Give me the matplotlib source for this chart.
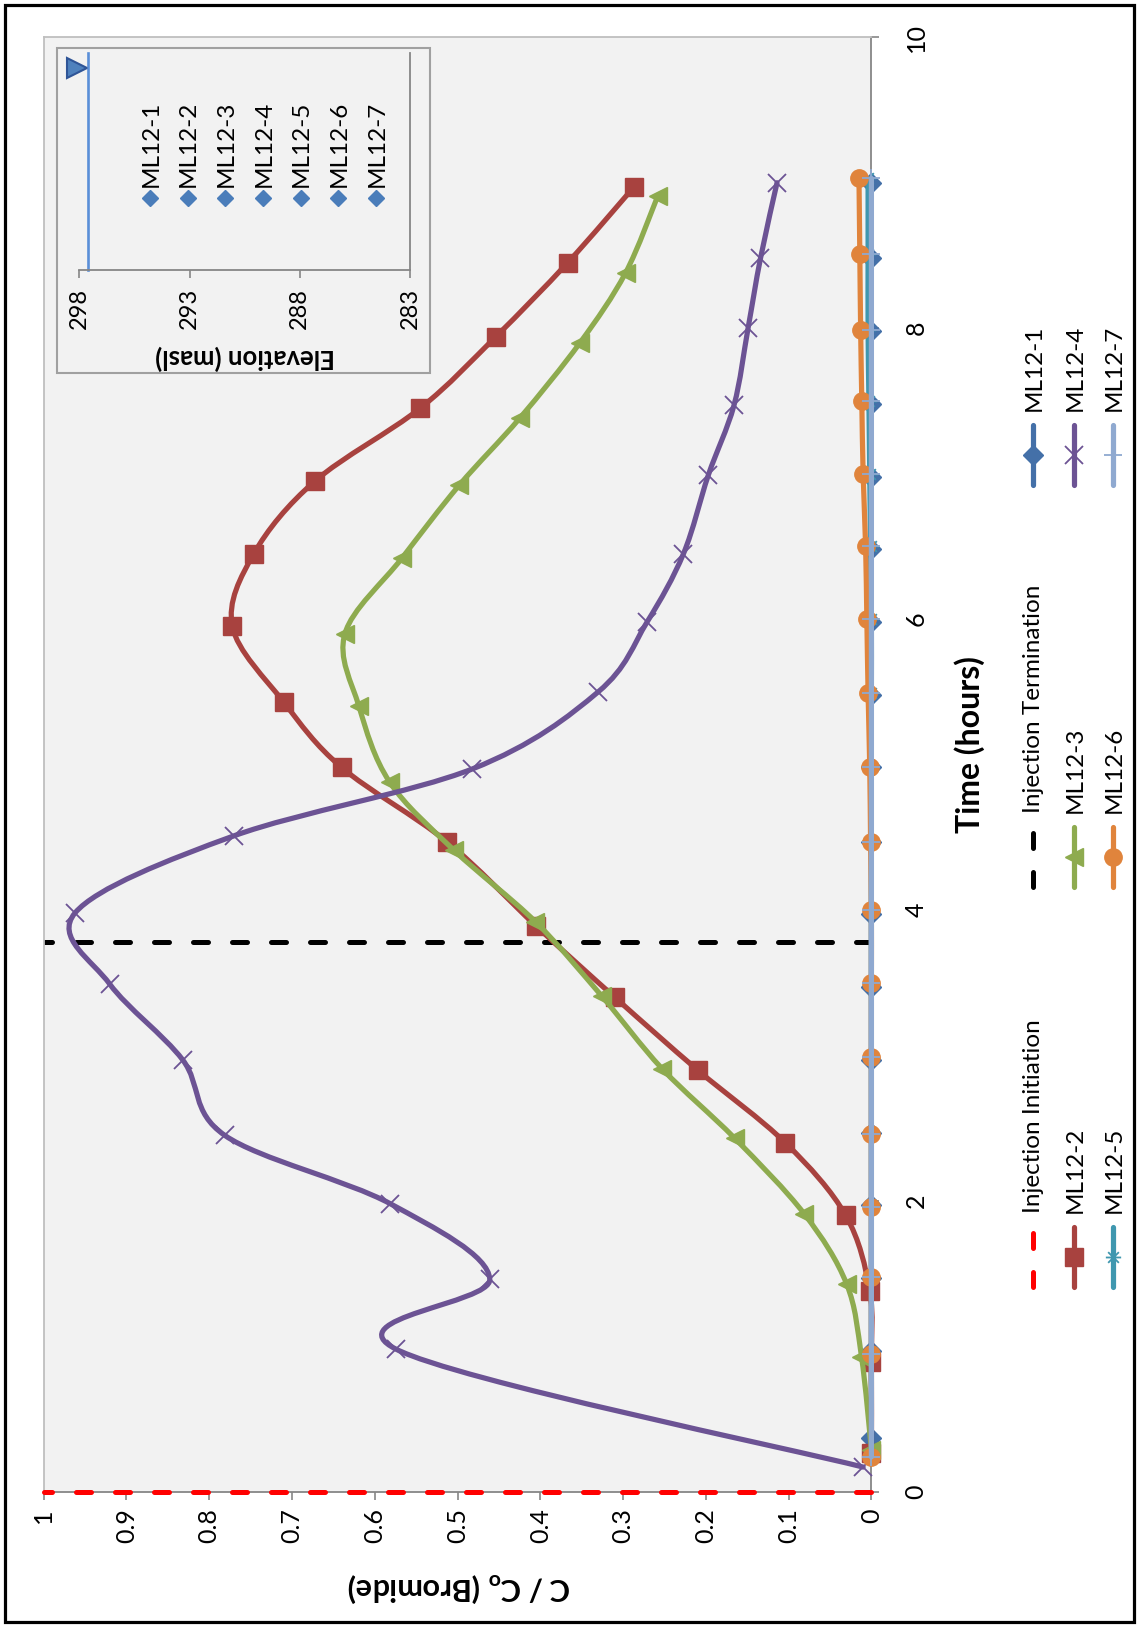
import matplotlib
matplotlib.use("Agg")
import matplotlib.pyplot as plt
from matplotlib.path import Path
from matplotlib.patches import PathPatch, Rectangle
import numpy as np

plt.rcParams['font.family'] = ['Lato', 'DejaVu Sans']
plt.rcParams['mathtext.fontset'] = 'custom'
plt.rcParams['mathtext.rm'] = 'Lato'
plt.rcParams['mathtext.bf'] = 'Lato:bold'

# ---- breakthrough data: time (hours) vs C/Co ----
t_ml1 = [0.37, 0.97, 1.47, 1.97, 2.47, 2.97, 3.47, 3.97, 4.47, 4.98, 5.48, 5.98, 6.48, 6.98, 7.48, 7.98, 8.48, 9.0]
c_ml1 = [0, 0, 0, 0, 0, 0, 0, 0, 0, 0, 0, 0, 0, 0, 0, 0, 0, 0]

t_ml2 = [0.27, 0.89, 1.38, 1.9, 2.4, 2.9, 3.4, 3.89, 4.47, 4.98, 5.43, 5.95, 6.45, 6.95, 7.45, 7.94, 8.45, 8.97]
c_ml2 = [0.0, 0.0, 0.002, 0.031, 0.104, 0.21, 0.31, 0.405, 0.513, 0.64, 0.71, 0.772, 0.746, 0.672, 0.545, 0.454, 0.367, 0.287]

t_ml3 = [0.29, 0.93, 1.43, 1.91, 2.43, 2.91, 3.41, 3.92, 4.41, 4.88, 5.4, 5.9, 6.42, 6.92, 7.38, 7.9, 8.38, 8.91]
c_ml3 = [0.0, 0.012, 0.03, 0.081, 0.165, 0.253, 0.326, 0.406, 0.504, 0.582, 0.619, 0.636, 0.567, 0.498, 0.425, 0.352, 0.297, 0.258]

t_ml4 = [0.17, 0.98, 1.46, 1.98, 2.45, 2.97, 3.49, 3.98, 4.51, 4.97, 5.5, 5.98, 6.45, 6.99, 7.47, 8.0, 8.48, 9.0]
c_ml4 = [0.01, 0.574, 0.461, 0.581, 0.781, 0.832, 0.92, 0.962, 0.77, 0.482, 0.33, 0.271, 0.227, 0.197, 0.166, 0.149, 0.134, 0.114]

t_ml5 = [0.24, 0.95, 1.48, 1.96, 2.46, 2.99, 3.5, 4.0, 4.47, 4.98, 5.49, 6.0, 6.5, 7.0, 7.5, 7.99, 8.51, 9.03]
c_ml5 = [0, 0, 0, 0, 0, 0, 0, 0, 0, 0, 0, 0, 0.001, 0.002, 0.003, 0.004, 0.004, 0.004]

t_ml6 = [0.24, 0.95, 1.48, 1.96, 2.46, 2.99, 3.5, 4.0, 4.47, 4.98, 5.49, 6.0, 6.5, 7.0, 7.5, 7.99, 8.51, 9.03]
c_ml6 = [0, 0, 0, 0, 0, 0, 0, 0, 0.001, 0.002, 0.004, 0.0055, 0.007, 0.01, 0.0116, 0.013, 0.014, 0.015]

t_ml7 = [0.24, 0.95, 1.48, 1.96, 2.46, 2.99, 3.5, 4.0, 4.47, 4.98, 5.49, 6.0, 6.5, 7.0, 7.5, 7.99, 8.51, 9.03]
c_ml7 = [0, 0, 0, 0, 0, 0, 0, 0, 0, 0, 0, 0, 0, 0, 0, 0, 0, 0]

INJ_START = 0.0
INJ_END = 3.78

c_ticks = [0, 0.1, 0.2, 0.3, 0.4, 0.5, 0.6, 0.7, 0.8, 0.9, 1]
t_ticks = [0, 2, 4, 6, 8, 10]

# inset: port elevations
elev_ticks = [298, 293, 288, 283]
WATER_TABLE = 297.6
WT_SYMBOL_ELEV = 298.1
WT_SYMBOL_POS = 0.93
ports = ["ML12-1", "ML12-2", "ML12-3", "ML12-4", "ML12-5", "ML12-6", "ML12-7"]

W, H = 1138, 1627


def fx(px):
    return px / W


def fy(py):
    return 1 - py / H


def smooth(ax, x, y, **kw):
    # Excel-style smoothed line (Catmull-Rom as cubic Bezier)
    pts = np.column_stack([x, y]).astype(float)
    ext = np.vstack([pts[0], pts, pts[-1]])
    verts = [pts[0]]
    codes = [Path.MOVETO]
    for i in range(1, len(ext) - 2):
        p0, p1, p2, p3 = ext[i - 1], ext[i], ext[i + 1], ext[i + 2]
        verts += [p1 + (p2 - p0) / 6, p2 - (p3 - p1) / 6, p2]
        codes += [Path.CURVE4] * 3
    ax.add_patch(PathPatch(Path(verts, codes), fill=False, clip_on=False,
                           capstyle='round', joinstyle='round', **kw))


asterisk = Path([(-1, 0), (1, 0), (-0.7, -0.7), (0.7, 0.7), (-0.7, 0.7), (0.7, -0.7)],
                [Path.MOVETO, Path.LINETO, Path.MOVETO, Path.LINETO, Path.MOVETO, Path.LINETO])

series = [
    ("ML12-1", c_ml1, t_ml1, '#4470A8', dict(marker='D', ms=10)),
    ("ML12-2", c_ml2, t_ml2, '#A8423F', dict(marker='s', ms=13)),
    ("ML12-3", c_ml3, t_ml3, '#8EAB4F', dict(marker='<', ms=13)),
    ("ML12-4", c_ml4, t_ml4, '#6C5394', dict(marker='x', ms=13, mew=1.3)),
    ("ML12-5", c_ml5, t_ml5, '#3F97AF', dict(marker=asterisk, ms=11, mew=1.3)),
    ("ML12-6", c_ml6, t_ml6, '#E0843C', dict(marker='o', ms=12.5)),
    ("ML12-7", c_ml7, t_ml7, '#8FA9D0', dict(marker='+', ms=13, mew=1.3)),
]

LW = 3.75
DASH_LW = 3.6

fig = plt.figure(figsize=(W / 100, H / 100), dpi=100)
fig.patch.set_facecolor('white')

ax = fig.add_axes([fx(43.6), fy(1491.8), (871.4 - 43.6) / W, (1491.8 - 37.3) / H])
ax.set_facecolor('#F2F2F2')
ax.set_xlim(1, 0)
ax.set_ylim(0, 10)

# injection markers
ax.plot([0, 1], [INJ_START, INJ_START], color='#FF0000', lw=DASH_LW, dashes=(3, 4.8),
        dash_capstyle='round', clip_on=False, zorder=2.6)
ax.plot([0, 1], [INJ_END, INJ_END], color='black', lw=DASH_LW, dashes=(3, 4.8),
        dash_capstyle='round', zorder=2.4)

for i, (name, c, t, col, mk) in enumerate(series):
    z = 3 + i
    smooth(ax, c, t, ec=col, lw=LW, zorder=z)
    ax.plot(c, t, ls='none', color=col, mfc=col, mec=col, clip_on=False, zorder=z + 0.5, **mk)

ax.set_xticks(c_ticks)
ax.set_xticklabels([f"{v:g}" for v in c_ticks])
ax.set_yticks(t_ticks)
ax.set_yticklabels([str(v) for v in t_ticks])
ax.yaxis.tick_right()
ax.tick_params(axis='x', direction='out', length=6, width=1.2, color='#868686',
               labelsize=18, pad=6, labelrotation=90)
ax.tick_params(axis='y', direction='out', length=6, width=1.2, color='#868686',
               labelsize=18, pad=18, labelrotation=90)
for lbl in ax.get_yticklabels():
    lbl.set_va('center')
    lbl.set_ha('left')
for lbl in ax.get_xticklabels():
    lbl.set_va('top')
    lbl.set_ha('center')

ax.spines['right'].set_color('#868686')
ax.spines['bottom'].set_color('#868686')
ax.spines['top'].set_color('#BFBFBF')
ax.spines['left'].set_color('#BFBFBF')
for s in ax.spines.values():
    s.set_linewidth(1.3)

fig.text(fx(459), fy(1587), r"C / C$_\mathbf{o}$ (Bromide)", rotation=180, ha='center',
         va='center', fontsize=22, fontweight='bold')
fig.text(fx(970), fy(745), "Time (hours)", rotation=90, ha='center', va='center',
         fontsize=23, fontweight='bold')

# overlay in pixel coordinates for legend, frames
ov = fig.add_axes([0, 0, 1, 1], zorder=5)
ov.set_xlim(0, W)
ov.set_ylim(H, 0)
ov.axis('off')
ov.patch.set_alpha(0)

ov.add_patch(Rectangle((5, 5), 1129, 1617, fill=False, ec='black', lw=2.3, clip_on=False))

# main legend
handles = [
    ("Injection Initiation", '#FF0000', None, True),
    ("Injection Termination", 'black', None, True),
] + [(s[0], s[3], s[4], False) for s in series]
col_x = [1033, 1074, 1113]
row_y = [1257, 857, 455]
for k, (label, col, mk, dashed) in enumerate(handles):
    x = col_x[k // 3]
    yc = row_y[k % 3]
    if dashed:
        ov.plot([x, x], [yc + 30, yc - 30], color=col, lw=DASH_LW, dashes=(3, 4.8),
                dash_capstyle='round', solid_capstyle='round')
    else:
        ov.plot([x, x], [yc + 30, yc - 30], color=col, lw=LW, solid_capstyle='round')
        ov.plot([x], [yc], ls='none', color=col, mfc=col, mec=col, **mk)
    ov.text(x + 1, yc - 44, label, rotation=90, ha='center', va='bottom', fontsize=17.5)

# inset chart (port elevations)
ov.add_patch(Rectangle((57, 48), 373, 325, fc='#F2F2F2', ec='#A0A0A0', lw=1.5, zorder=1))

axi = fig.add_axes([fx(79.3), fy(270), (410 - 79.3) / W, (270 - 53) / H], zorder=6)
axi.patch.set_alpha(0)
axi.set_xlim(298, 283)
axi.set_ylim(0, 1)
axi.plot([WATER_TABLE, WATER_TABLE], [0, 1], color='#5A8FD8', lw=1.9, clip_on=False)
axi.plot([WT_SYMBOL_ELEV], [WT_SYMBOL_POS], marker='>', ms=15, mfc='#4F81BD', mec='#2F5597',
         mew=1.5, clip_on=False)
axi.set_xticks(elev_ticks)
axi.set_xticklabels([str(v) for v in elev_ticks])
axi.set_yticks([])
axi.tick_params(axis='x', direction='out', length=6, width=1.2, color='#868686',
                labelsize=17, pad=7, labelrotation=90)
for lbl in axi.get_xticklabels():
    lbl.set_va('top')
for side in ['top', 'left']:
    axi.spines[side].set_visible(False)
axi.spines['bottom'].set_color('#868686')
axi.spines['right'].set_color('#868686')
axi.spines['bottom'].set_linewidth(1.3)
axi.spines['right'].set_linewidth(1.3)

fig.text(fx(245), fy(358), "Elevation (masl)", rotation=180, ha='center', va='center',
         fontsize=18.5, fontweight='bold', zorder=7)

leg_x = [150, 187.7, 225.3, 263, 300.7, 338.3, 376]
for x, name in zip(leg_x, ports):
    ov.plot([x], [198], ls='none', marker='D', ms=8, mfc='#4A7DBA', mec='#4A7DBA', zorder=8)
    ov.text(x + 1, 187, name, rotation=90, ha='center', va='bottom', fontsize=17.5, zorder=8)

fig.savefig("out.png", dpi=100)
